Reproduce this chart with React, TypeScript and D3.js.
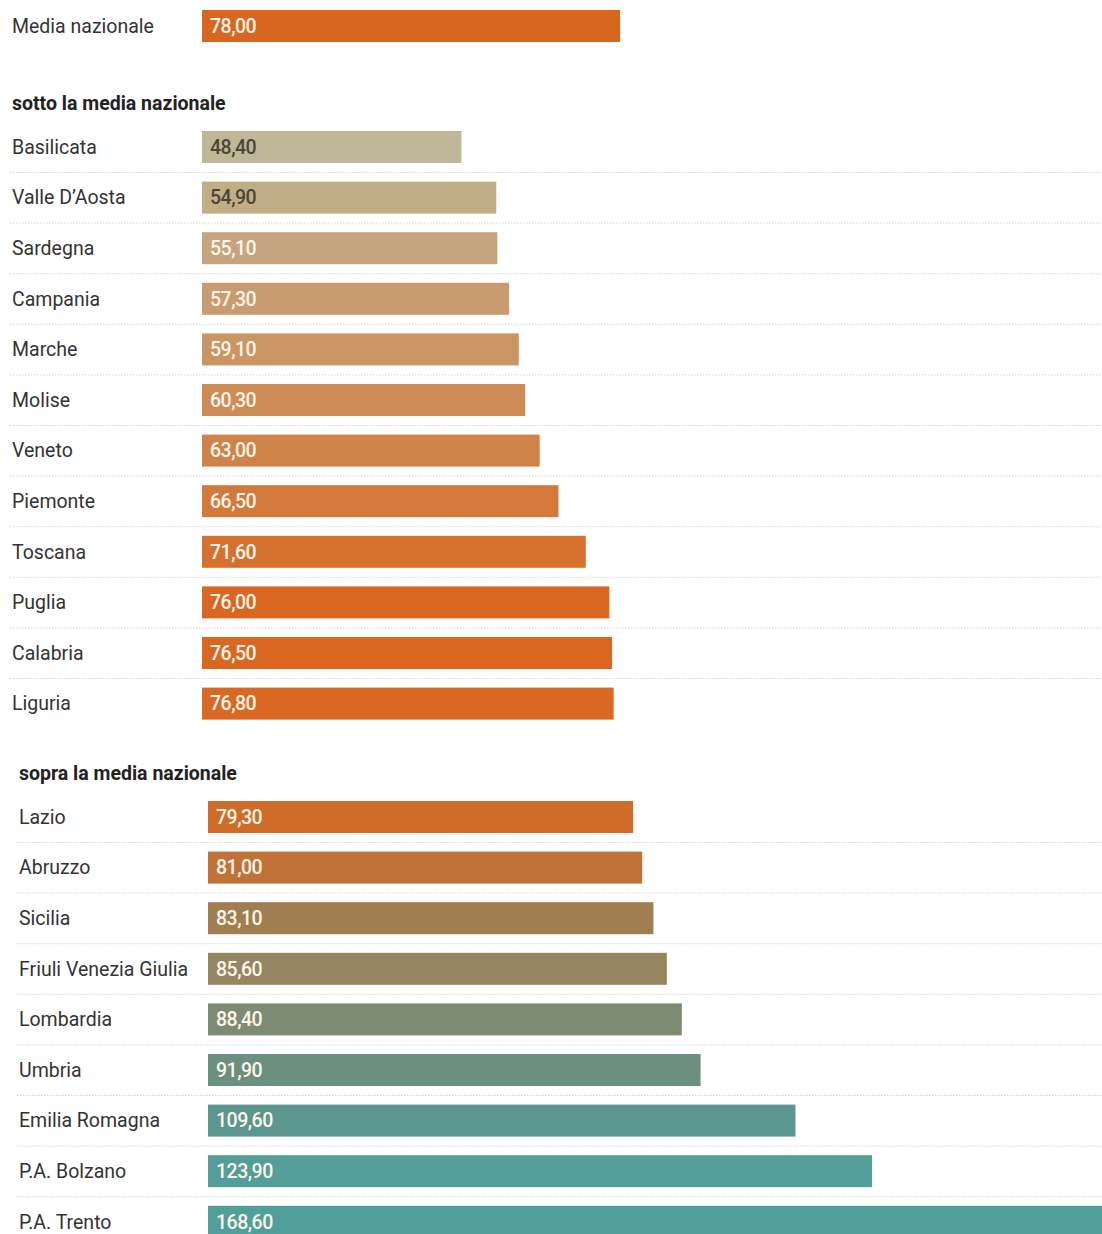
import React from "react";
import * as d3 from "d3";

const nationalLabel = "Media nazionale";
const nationalValue = 78.0;
const nationalColor = "#d9661f";

const belowTitle = "sotto la media nazionale";
const belowRegions = ["Basilicata", "Valle D\u2019Aosta", "Sardegna", "Campania", "Marche", "Molise", "Veneto", "Piemonte", "Toscana", "Puglia", "Calabria", "Liguria"];
const belowValues = [48.4, 54.9, 55.1, 57.3, 59.1, 60.3, 63.0, 66.5, 71.6, 76.0, 76.5, 76.8];
const belowColors = ["#bfb898", "#c2ae86", "#c5a480", "#c89c70", "#ca9463", "#cd8b56", "#d08348", "#d3793b", "#d6702e", "#d96721", "#d96721", "#d96822"];
const belowTextColors = ["#4a4638", "#4a4638", "#fff6ea", "#fff6ea", "#fff6ea", "#fff6ea", "#fff6ea", "#fff6ea", "#fff6ea", "#fff6ea", "#fff6ea", "#fff6ea"];

const aboveTitle = "sopra la media nazionale";
const aboveRegions = ["Lazio", "Abruzzo", "Sicilia", "Friuli Venezia Giulia", "Lombardia", "Umbria", "Emilia Romagna", "P.A. Bolzano", "P.A. Trento"];
const aboveValues = [79.3, 81.0, 83.1, 85.6, 88.4, 91.9, 109.6, 123.9, 168.6];
const aboveColors = ["#d06c2a", "#c07239", "#a17d52", "#958560", "#7e8b73", "#6b9080", "#5b978e", "#539e98", "#509f9a"];

const fmt = (v: number) => v.toFixed(2).replace(".", ",");

const W = 1102;
const H = 1234;
const x = d3.scaleLinear().domain([0, 100]).range([0, 536]);
const FONT = "Roboto, 'Noto Sans', sans-serif";
const BAR_H = 32;
const PITCH = 50.6;

function Row({ label, value, color, textColor, top, labelX, barX, sep }: any) {
  return (
    <g>
      <text x={labelX} y={top + BAR_H / 2} dy="0.35em" fontSize={19.5} fill="#333" fontFamily={FONT}>{label}</text>
      <rect x={barX} y={top} width={x(value)} height={BAR_H} fill={color} />
      <text x={barX + 8} y={top + BAR_H / 2} dy="0.35em" fontSize={19.5} fontWeight={500} fill={textColor} fontFamily={FONT} letterSpacing={-0.5}>{fmt(value)}</text>
      {sep && (
        <line x1={labelX - 2} x2={W} y1={top + 41.5} y2={top + 41.5} stroke="#d4d4d4" strokeWidth={1} strokeDasharray="1.5,1.5" />
      )}
    </g>
  );
}

export default function App() {
  const belowTop = 131;
  const aboveTop = 801;
  return (
    <svg width={W} height={H} style={{ position: "absolute", left: 0, top: 0, background: "#fff" }}>
      <rect width={W} height={H} fill="#fff" />
      <Row label={nationalLabel} value={nationalValue} color={nationalColor} textColor="#fff6ea" top={10} labelX={12} barX={202} sep={false} />
      <text x={12} y={103} dy="0.35em" fontSize={19.5} fontWeight={700} fill="#222" fontFamily={FONT}>{belowTitle}</text>
      {belowRegions.map((r, i) => (
        <Row key={r} label={r} value={belowValues[i]} color={belowColors[i]} textColor={belowTextColors[i]} top={belowTop + i * PITCH} labelX={12} barX={202} sep={i < belowRegions.length - 1} />
      ))}
      <text x={19} y={773} dy="0.35em" fontSize={19.5} fontWeight={700} fill="#222" fontFamily={FONT}>{aboveTitle}</text>
      {aboveRegions.map((r, i) => (
        <Row key={r} label={r} value={aboveValues[i]} color={aboveColors[i]} textColor="#fff6ea" top={aboveTop + i * PITCH} labelX={19} barX={208} sep={i < aboveRegions.length - 1} />
      ))}
    </svg>
  );
}
